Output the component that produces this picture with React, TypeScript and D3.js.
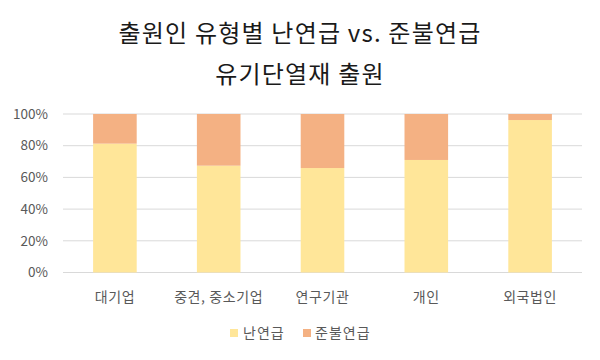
import React from "react";
import * as d3 from "d3";

const categories = ["대기업", "중견, 중소기업", "연구기관", "개인", "외국법인"];
const seriesNames = ["난연급", "준불연급"];
const flameRetardant = [81.3, 67.4, 65.9, 71.0, 96.2];
const quasiNonCombustible = [18.7, 32.6, 34.1, 29.0, 3.8];
const yTicks = [0, 20, 40, 60, 80, 100];
const titleLines = ["출원인 유형별 난연급 vs. 준불연급", "유기단열재 출원"];

const colors = ["#FFE699", "#F4B183"];
const FONT = "'Noto Sans CJK KR', 'Noto Sans', sans-serif";

export default function App() {
  const W = 600, H = 360;
  const left = 63, right = 582, top = 114, bottom = 272.5;
  const x = d3.scaleBand<string>().domain(categories).range([left, right]).paddingInner(0.58).paddingOuter(0.29);
  const y = d3.scaleLinear().domain([0, 100]).range([bottom, top]);

  const rows = categories.map((c, i) => ({ cat: c, a: flameRetardant[i], b: quasiNonCombustible[i] }));
  const stack = d3.stack<any>().keys(["a", "b"]).offset(d3.stackOffsetExpand)(rows);

  return (
    <svg width={W} height={H} style={{ position: "absolute", left: 0, top: 0, background: "#fff" }} fontFamily={FONT}>
      <rect width={W} height={H} fill="#fff" />
      {titleLines.map((t, i) => (
        <text key={i} x={300} y={42 + i * 41} textAnchor="middle" fontSize={24} letterSpacing={1.2} fill="#1a1a1a">{t}</text>
      ))}
      {yTicks.map((t) => (
        <g key={t}>
          <line x1={left} x2={right} y1={y(t)} y2={y(t)} stroke="#D9D9D9" strokeWidth={1} />
          <text x={48} y={y(t)} dy="0.35em" textAnchor="end" fontSize={13.5} fill="#595959">{t}%</text>
        </g>
      ))}
      {stack.map((s, si) => (
        <g key={si} fill={colors[si]}>
          {s.map((d, i) => (
            <rect key={i} x={x(categories[i])} width={x.bandwidth()} y={y(d[1] * 100)} height={y(d[0] * 100) - y(d[1] * 100)} />
          ))}
        </g>
      ))}
      {categories.map((c) => (
        <text key={c} x={(x(c) as number) + x.bandwidth() / 2} y={297} dy="0.35em" textAnchor="middle" fontSize={14} letterSpacing={0.6} fill="#595959">{c}</text>
      ))}
      <g>
        <rect x={230} y={329} width={8} height={8} fill={colors[0]} />
        <text x={243} y={333} dy="0.35em" fontSize={14} letterSpacing={1} fill="#595959">{seriesNames[0]}</text>
        <rect x={303} y={329} width={8} height={8} fill={colors[1]} />
        <text x={315} y={333} dy="0.35em" fontSize={14} letterSpacing={1} fill="#595959">{seriesNames[1]}</text>
      </g>
    </svg>
  );
}
